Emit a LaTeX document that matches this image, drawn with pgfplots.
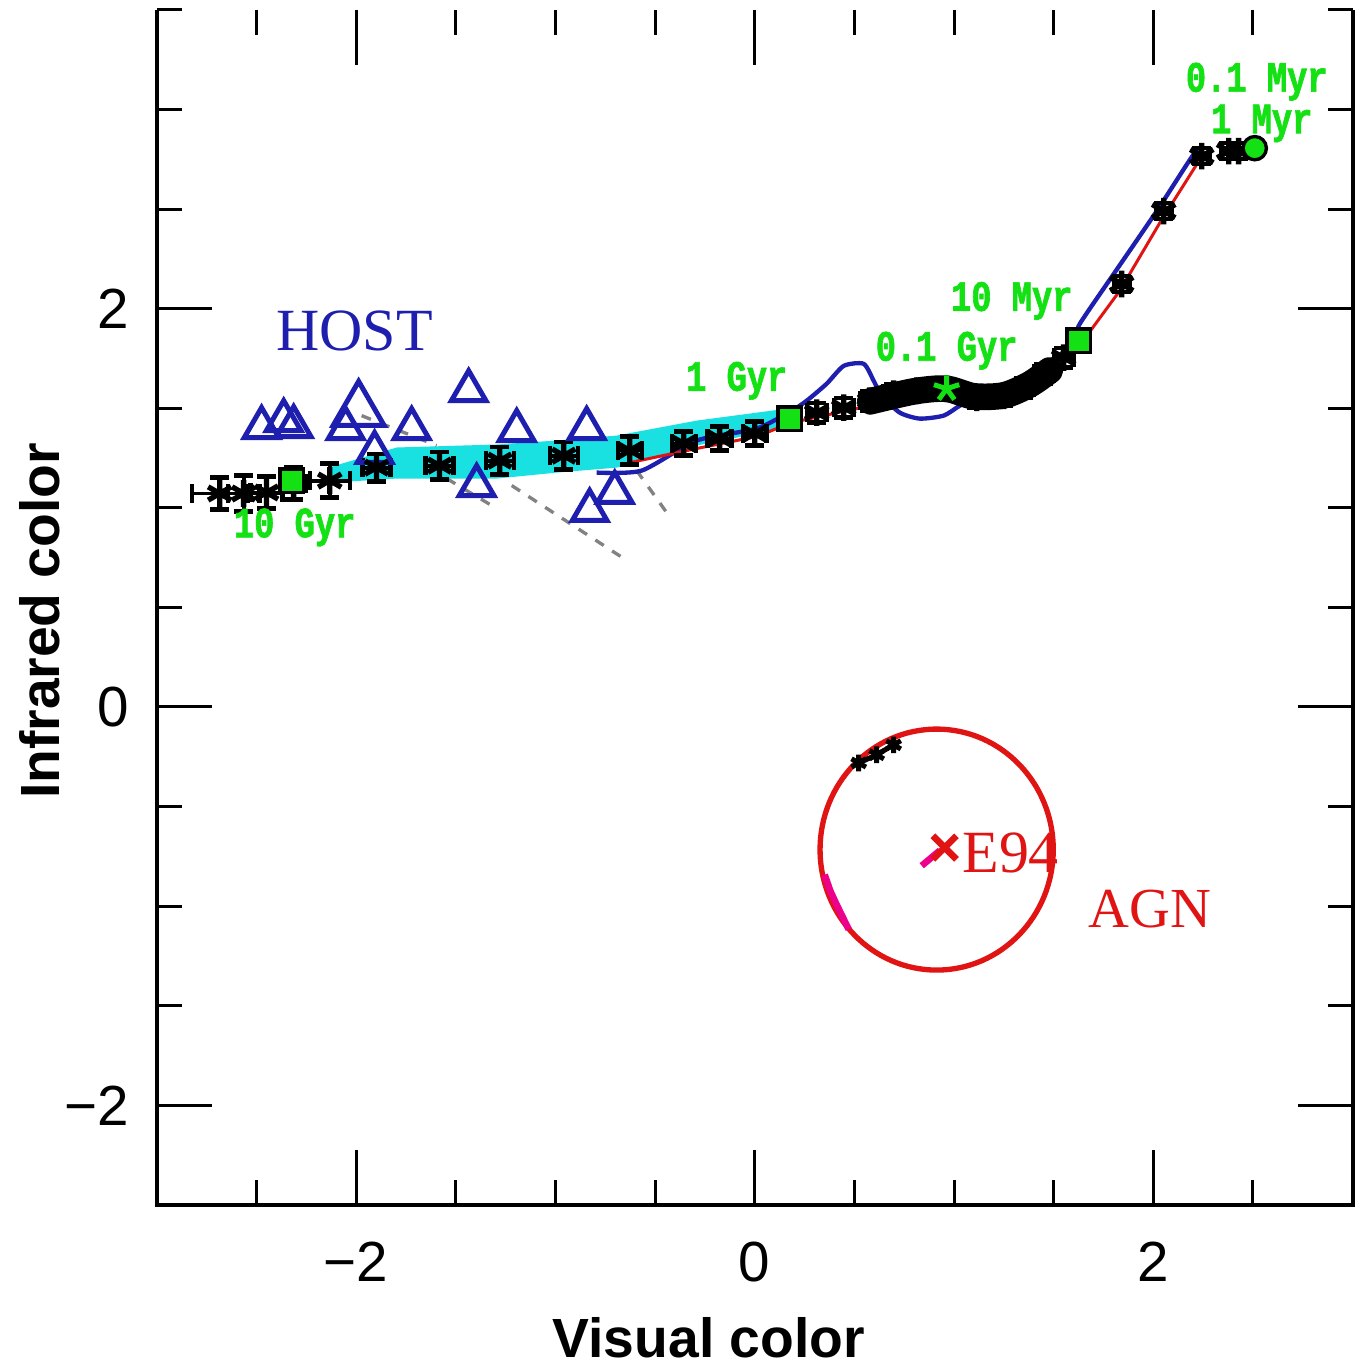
\documentclass[border=0pt]{standalone}
\usepackage{pgfplots}
\pgfplotsset{compat=1.18}
\usepackage{fontspec}
\setmainfont{Liberation Sans}
\newfontfamily\serfam{Liberation Serif}
\newfontfamily\monofam[FakeStretch=0.78,FakeBold=1.5]{Liberation Mono}
\definecolor{hostblue}{RGB}{30,30,175}
\definecolor{agnred}{RGB}{225,20,20}
\definecolor{lblgreen}{RGB}{20,225,20}
\definecolor{bandcyan}{RGB}{25,225,225}
\definecolor{dashgray}{RGB}{130,130,130}
\newcommand\grn{\monofam\bfseries\fontsize{13}{15}\selectfont}
\begin{document}
\begin{tikzpicture}
\begin{axis}[
  scale only axis, width=359.4pt, height=359.1pt,
  xmin=-3, xmax=3, ymin=-2.5, ymax=3.5,
  clip=false,
  axis line style={draw=none},
  xtick={-2,0,2}, ytick={-2,0,2},
  xticklabels={−2,0,2}, yticklabels={−2,0,2},
  minor xtick={-2.5,-1.5,-1,-0.5,0.5,1,1.5,2.5},
  minor ytick={-2.5,-1.5,-1,-0.5,0.5,1,1.5,2.5,3,3.5},
  tick align=inside,
  major tick length=16.5pt, minor tick length=7.5pt,
  every tick/.style={line width=0.9pt, black},
  ticklabel style={font=\fontsize{17}{20}\selectfont},
  xticklabel style={yshift=-7.5pt},
  yticklabel style={xshift=-4.8pt},
  xlabel={Visual color}, ylabel={Infrared color},
  label style={font=\fontsize{16.6}{20}\selectfont\bfseries},
  xlabel style={at={(axis description cs:0.4616,-0.1111)}, anchor=center},
  ylabel style={at={(axis description cs:-0.0977,0.4887)}, anchor=center},
]
\coordinate (ll) at (rel axis cs:0,0);
\coordinate (ur) at (rel axis cs:1,1);

% cyan band
\addplot[draw=none, fill=bandcyan] coordinates {
(-2.122,1.207) (-1.796,1.303) (-1.295,1.318) (-0.993,1.338) (-0.692,1.363) (-0.291,1.438) (0.161,1.498)
(0.161,1.403) (-0.291,1.313) (-0.692,1.202) (-0.993,1.177) (-1.295,1.147) (-1.796,1.147) (-2.122,1.127)} -- cycle;

% gray dashed vectors
\addplot[dashgray, dashed, line width=1pt] coordinates {(-1.972,1.463) (-1.596,1.313)};
\addplot[dashgray, dashed, line width=1pt] coordinates {(-1.545,1.147) (-1.320,1.012)};
\addplot[dashgray, dashed, line width=1pt] coordinates {(-1.219,1.112) (-0.642,0.736)};
\addplot[dashgray, dashed, line width=1pt] coordinates {(-0.592,1.187) (-0.442,0.977)};

% blue model track
\addplot[hostblue, line width=1.3pt, smooth, tension=0.4] coordinates {
(-0.793,1.177) (-0.567,1.187) (-0.291,1.338) (0.010,1.398) (0.186,1.488) (0.261,1.538)
(0.361,1.623) (0.447,1.713) (0.547,1.723) (0.597,1.638) (0.637,1.563) (0.728,1.478)
(0.828,1.448) (0.948,1.463) (1.029,1.513) (1.139,1.573) (1.264,1.598) (1.365,1.628)
(1.465,1.703) (1.601,1.839) (1.631,1.924) (1.801,2.174) (2.017,2.490) (2.203,2.776) (2.243,2.791)};

% red model track
\addplot[agnred, line width=0.9pt] coordinates {
(-0.627,1.227) (-0.291,1.298) (0.010,1.358) (0.186,1.428) (0.462,1.488) (0.713,1.538)
(1.014,1.553) (1.264,1.563) (1.465,1.678) (1.666,1.864) (1.831,2.089) (2.032,2.430) (2.218,2.725) (2.243,2.766)};

% dense black band
\addplot[black, line width=8pt, line cap=round, smooth] coordinates {
(0.58,1.535) (0.8,1.585) (0.96,1.598) (1.1,1.56) (1.25,1.565) (1.38,1.62) (1.48,1.69)};

% host triangles
\addplot[only marks, mark=triangle, mark size=6pt, hostblue, line width=1.5pt] coordinates {
(-2.474,1.403) (-2.363,1.438) (-2.313,1.408) (-2.052,1.398) (-1.907,1.278) (-1.721,1.398)
(-1.435,1.588) (-1.194,1.388) (-0.843,1.398) (-1.395,1.112) (-0.828,0.987) (-0.702,1.077)};
\addplot[only marks, mark=triangle, mark size=8.8pt, hostblue, line width=1.5pt] coordinates {(-1.987,1.488)};

% black data points with error bars
\addplot[only marks, mark=asterisk, mark size=4pt, black, line width=1.6pt,
  error bars/.cd, x dir=both, x explicit, y dir=both, y explicit,
  error bar style={line width=1.2pt, black},
  error mark options={rotate=90, mark size=2.8pt, line width=1.3pt, black}]
table[x=x, y=y, x error=ex, y error=ey] {
x y ex ey
-2.684 1.072 0.14 0.08
-2.564 1.072 0.08 0.09
-2.449 1.077 0.08 0.08
-2.313 1.122 0.06 0.08
-2.132 1.137 0.10 0.085
-1.897 1.202 0.07 0.07
-1.581 1.212 0.07 0.07
-1.279 1.237 0.07 0.07
-0.958 1.262 0.07 0.07
-0.627 1.288 0.06 0.07
-0.356 1.323 0.06 0.06
-0.176 1.348 0.06 0.06
0.000 1.373 0.06 0.06
0.176 1.448 0.05 0.05
0.311 1.478 0.05 0.05
0.447 1.503 0.05 0.05
0.577 1.538 0.05 0.05
0.697 1.573 0.05 0.05
0.813 1.588 0.05 0.05
0.963 1.598 0.05 0.05
1.114 1.553 0.05 0.05
1.249 1.563 0.05 0.05
1.350 1.603 0.05 0.05
1.450 1.673 0.05 0.05
1.550 1.754 0.05 0.05
1.841 2.124 0.04 0.04
2.052 2.490 0.04 0.04
2.243 2.766 0.04 0.04
2.378 2.791 0.04 0.04
2.428 2.791 0.04 0.04
};

% green age markers
\addplot[only marks, mark=square*, mark size=3.5pt, mark options={fill=lblgreen, draw=black, line width=1pt}] coordinates {
(-2.323,1.137) (0.176,1.448) (1.626,1.839)};
\addplot[only marks, mark=star, mark size=4pt, lblgreen, line width=1.5pt] coordinates {(0.963,1.598)};
\addplot[only marks, mark=*, mark size=3.5pt, mark options={fill=lblgreen, draw=black, line width=1pt}] coordinates {(2.509,2.806)};

% AGN
\draw[agnred, line width=1.6pt] (axis cs:0.913,-0.716) ellipse [x radius=0.585, y radius=0.605];
\addplot[magenta, line width=2pt] coordinates {(0.351,-0.842) (0.38,-0.925) (0.411,-0.992) (0.472,-1.117)};
\addplot[black, line width=1.5pt, mark=asterisk, mark size=2.5pt] coordinates {(0.522,-0.281) (0.612,-0.240) (0.697,-0.190)};
\addplot[magenta, line width=2pt] coordinates {(0.838,-0.797) (0.93,-0.72)};
\addplot[only marks, mark=x, mark size=5pt, agnred, line width=2pt] coordinates {(0.953,-0.706)};

% text
\node[text=hostblue, font=\serfam\fontsize{18}{20}\selectfont] at (axis cs:-2.007,1.889) {HOST};
\node[text=agnred, font=\serfam\fontsize{17}{20}\selectfont] at (axis cs:1.982,-1.017) {AGN};
\node[text=agnred, font=\serfam\fontsize{18}{20}\selectfont, anchor=west, inner sep=0pt] at (axis cs:1.039,-0.731) {E94};

\node[text=lblgreen, font=\grn, inner sep=0pt] at (axis cs:2.519,3.14) {0.1 Myr};
\node[text=lblgreen, font=\grn, inner sep=0pt] at (axis cs:2.544,2.93) {1 Myr};
\node[text=lblgreen, font=\grn] at (axis cs:1.290,2.039) {10 Myr};
\node[text=lblgreen, font=\grn] at (axis cs:0.963,1.789) {0.1 Gyr};
\node[text=lblgreen, font=\grn] at (axis cs:-0.090,1.638) {1 Gyr};
\node[text=lblgreen, font=\grn] at (axis cs:-2.308,0.902) {10 Gyr};

% frame: left, bottom, right (no top line)
\draw[line width=1.2pt, black] (rel axis cs:0,1) -- (rel axis cs:0,0) -- (rel axis cs:1,0) -- (rel axis cs:1,1);
\end{axis}
\path ([shift={(-47.1pt,-48.6pt)}]ll) rectangle ([shift={(1.2pt,3pt)}]ur);
\end{tikzpicture}
\end{document}
